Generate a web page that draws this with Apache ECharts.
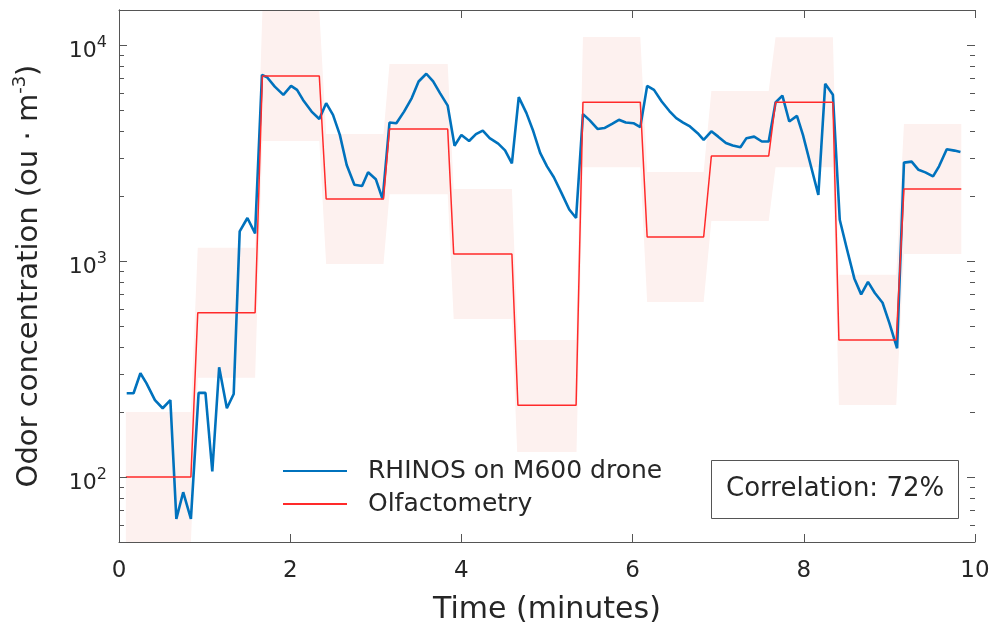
<!DOCTYPE html>
<html>
<head>
<meta charset="utf-8">
<script src="https://cdn.jsdelivr.net/npm/echarts@6/dist/echarts.min.js"></script>
<style>
  html, body { margin: 0; padding: 0; background: #fff; }
  #chart { width: 995px; height: 626px; }
</style>
</head>
<body>
<div id="chart"></div>
<script>
// RHINOS readings (time in minutes, odor in ou/m3)
const rhinosTime = [0.09,0.17,0.25,0.32,0.42,0.51,0.60,0.67,0.75,0.84,
    0.93,1.01,1.09,1.17,1.26,1.34,1.41,1.50,1.59,1.67,
    1.73,1.82,1.92,2.01,2.08,2.15,2.25,2.34,2.42,2.50,
    2.58,2.66,2.75,2.84,2.91,3.00,3.08,3.16,3.24,3.33,
    3.42,3.50,3.59,3.67,3.75,3.84,3.92,4.00,4.09,4.17,
    4.25,4.33,4.43,4.51,4.59,4.67,4.76,4.84,4.92,5.00,
    5.08,5.17,5.26,5.34,5.42,5.50,5.59,5.67,5.76,5.84,
    5.92,6.01,6.09,6.17,6.25,6.34,6.43,6.51,6.59,6.67,
    6.76,6.83,6.92,7.00,7.09,7.17,7.26,7.33,7.42,7.51,
    7.59,7.67,7.75,7.83,7.92,7.99,8.08,8.17,8.25,8.34,
    8.42,8.50,8.59,8.67,8.75,8.83,8.92,9.00,9.09,9.17,
    9.26,9.34,9.42,9.51,9.58,9.67,9.76,9.83];
const rhinosValue = [244,244,302,272,227,208,227,64,85,64,
    245,245,106,322,208,242,1370,1580,1340,7260,
    7080,6410,5870,6460,6190,5560,4910,4540,5370,4740,
    3830,2780,2250,2220,2570,2390,1930,4370,4340,4910,
    5670,6770,7350,6770,5980,5230,3410,3830,3590,3860,
    4010,3700,3490,3250,2830,5730,4830,3980,3160,2740,
    2440,2060,1730,1580,4780,4470,4080,4120,4310,4500,
    4370,4340,4160,6460,6190,5470,4940,4580,4370,4190,
    3900,3630,3980,3760,3510,3420,3360,3700,3760,3570,
    3570,5410,5820,4420,4690,3830,2780,2020,6600,5870,
    1550,1150,830,700,800,710,640,515,394,2850,
    2880,2640,2570,2460,2740,3290,3240,3190];

// olfactometry samples: start / end time of each bag and its value
const olfStart = [0.08,0.92,1.675,2.42,3.16,3.91,4.66,5.42,6.17,6.92,7.67,8.41,9.17];
const olfEnd   = [0.84,1.59,2.34,3.09,3.84,4.59,5.34,6.09,6.83,7.59,8.34,9.08,9.84];
const olfValue = [100,575,7180,1936,4075,1077,215,5430,1290,3060,5420,431,2154];
const olfFactor = 2; // uncertainty band: value / 2 .. value * 2

const xTicks = [0, 2, 4, 6, 8, 10];
const yTicks = [60,70,80,90,100,200,300,400,500,600,700,800,900,
    1000,2000,3000,4000,5000,6000,7000,8000,9000,10000];

const FONT = 'DejaVu Sans';
const AXIS = '#555';
const TEXT = '#262626';

const isPow10 = v => Math.abs(Math.log10(v) - Math.round(Math.log10(v))) < 1e-6;

var rhinosData = rhinosTime.map((t, i) => [t, rhinosValue[i]]);
var olfData = [];
olfValue.forEach((v, i) => {
    olfData.push([olfStart[i], v]);
    olfData.push([olfEnd[i], v]);
});

var chart = echarts.init(document.getElementById('chart'));

var option = {
    animation: false,
    textStyle: { fontFamily: FONT },
    grid: {
        left: 119, right: 20, top: 10, bottom: 84,
        containLabel: false,
        outerBoundsMode: 'none'
    },
    title: {
        text: 'Correlation: 72%',
        left: 711, top: 460,
        padding: [14, 15, 14, 15],
        borderColor: AXIS, borderWidth: 1,
        backgroundColor: '#fff',
        textStyle: { fontFamily: FONT, fontSize: 26, fontWeight: 'normal', color: TEXT, lineHeight: 31 }
    },
    legend: {
        orient: 'vertical',
        left: 270, top: 452,
        padding: [5, 15, 8, 13],
        itemGap: 5,
        itemWidth: 64,
        itemHeight: 2,
        backgroundColor: '#fff',
        data: [
            { name: 'RHINOS on M600 drone', icon: 'rect' },
            { name: 'Olfactometry', icon: 'rect' }
        ],
        textStyle: { fontFamily: FONT, fontSize: 25, color: TEXT, lineHeight: 28, padding: [0, 0, 0, 16] }
    },
    xAxis: [{
        type: 'value', min: 0, max: 10, interval: 2,
        name: 'Time (minutes)', nameLocation: 'middle', nameGap: 53,
        nameMoveOverlap: false,
        nameTextStyle: { fontFamily: FONT, fontSize: 30, color: TEXT },
        axisLine: { lineStyle: { color: AXIS, width: 1 } },
        axisTick: { inside: true, length: 8, lineStyle: { color: AXIS } },
        axisLabel: {
            fontFamily: FONT, fontSize: 23, color: TEXT, margin: 18,
            formatter: v => xTicks.indexOf(v) >= 0 ? String(v) : ''
        },
        splitLine: { show: false }
    }, {
        type: 'value', position: 'top', min: 0, max: 10, interval: 2,
        axisLine: { lineStyle: { color: AXIS, width: 1 } },
        axisTick: { inside: true, length: 8, lineStyle: { color: AXIS } },
        axisLabel: { show: false },
        splitLine: { show: false }
    }],
    yAxis: [{
        type: 'log', logBase: 10, min: 50, max: 14500,
        name: '{a|Odor concentration (ou · m}{s|-3}{a|)}',
        nameLocation: 'middle', nameGap: 72, nameRotate: 90,
        nameMoveOverlap: false,
        nameTextStyle: {
            rich: {
                a: { fontFamily: FONT, fontSize: 29, color: TEXT },
                s: { fontFamily: FONT, fontSize: 18, color: TEXT, padding: [0, 0, 18, 0] }
            }
        },
        axisLine: { lineStyle: { color: AXIS, width: 1 } },
        axisTick: { show: false },
        axisLabel: {
            margin: 12,
            padding: [12, 0, 0, 0],
            formatter: v => isPow10(v) ? '{b|10}{s|' + Math.round(Math.log10(v)) + '}' : '',
            rich: {
                b: { fontFamily: FONT, fontSize: 22, color: TEXT },
                s: { fontFamily: FONT, fontSize: 16, color: TEXT, padding: [0, 0, 16, 0] }
            }
        },
        splitLine: { show: false }
    }, {
        type: 'log', logBase: 10, min: 50, max: 14500, position: 'right',
        axisLine: { lineStyle: { color: AXIS, width: 1 } },
        axisTick: { show: false },
        axisLabel: { show: false },
        splitLine: { show: false }
    }],
    series: [
        {
            // shaded uncertainty band around the olfactometry steps
            type: 'custom',
            silent: true,
            z: 1,
            data: olfValue.map((v, i) => [olfStart[i], v]),
            renderItem: (params, api) => {
                if (params.dataIndex !== 0) return null;
                var pts = [];
                olfValue.forEach((v, i) => {
                    pts.push(api.coord([olfStart[i], v * olfFactor]));
                    pts.push(api.coord([olfEnd[i], v * olfFactor]));
                });
                for (var i = olfValue.length - 1; i >= 0; i--) {
                    pts.push(api.coord([olfEnd[i], olfValue[i] / olfFactor]));
                    pts.push(api.coord([olfStart[i], olfValue[i] / olfFactor]));
                }
                return { type: 'polygon', shape: { points: pts }, style: { fill: '#fdf1ef' } };
            }
        },
        {
            name: 'RHINOS on M600 drone',
            type: 'line',
            color: '#0072BD',
            data: rhinosData,
            symbol: 'none',
            z: 3,
            lineStyle: { color: '#0072BD', width: 2.6 }
        },
        {
            name: 'Olfactometry',
            type: 'line',
            color: '#ff2a2a',
            data: olfData,
            symbol: 'none',
            z: 4,
            lineStyle: { color: '#ff2a2a', width: 1.5 }
        },
        {
            // minor / major ticks on the log axis, left and right side
            type: 'custom',
            silent: true,
            z: 5,
            data: yTicks.map(v => [0, v]),
            renderItem: (params, api) => {
                var v = api.value(1);
                var y = Math.round(api.coord([0, v])[1]) + 0.5;
                var cs = params.coordSys;
                var len = isPow10(v) ? 8 : 5;
                var st = { stroke: AXIS, lineWidth: 1 };
                return {
                    type: 'group',
                    children: [
                        { type: 'line', shape: { x1: cs.x, y1: y, x2: cs.x + len, y2: y }, style: st },
                        { type: 'line', shape: { x1: cs.x + cs.width - len, y1: y, x2: cs.x + cs.width, y2: y }, style: st }
                    ]
                };
            }
        }
    ]
};

chart.setOption(option);
</script>
</body>
</html>
